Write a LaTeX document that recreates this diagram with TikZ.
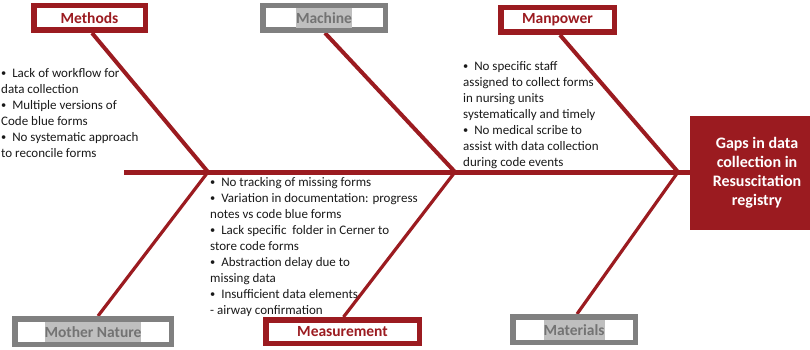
\documentclass[tikz,border=0pt]{standalone}
\usepackage{fontspec}
\setmainfont{Carlito}
\usetikzlibrary{backgrounds}
\definecolor{fbred}{RGB}{155,27,32}
\definecolor{fbgray}{RGB}{128,128,128}
\definecolor{hlgray}{RGB}{191,191,191}
\definecolor{lblgray}{RGB}{115,115,115}
\definecolor{txt}{RGB}{25,25,25}
\newcommand\hlbox[1]{{\setlength{\fboxsep}{0pt}\colorbox{hlgray}{\rule[-4.5pt]{0pt}{20pt}#1}}}
\newcommand\bul{\raisebox{0.5pt}{\scalebox{0.8}{\textbullet}}\ \ }
\begin{document}
\begin{tikzpicture}[x=1pt,y=-1pt,
  redbox/.style={draw=fbred, line width=5.5pt, fill=white, inner sep=0pt,
    font=\fontsize{15.5}{18}\selectfont\bfseries, text=fbred},
  graybox/.style={draw=fbgray, line width=5.5pt, fill=white, inner sep=0pt,
    font=\fontsize{15.5}{18}\selectfont\bfseries, text=lblgray},
  spine/.style={draw=fbred, line width=5pt},
  bone/.style={draw=fbred, line width=4pt},
  lowbone/.style={draw=fbred, line width=3.2pt},
  causes/.style={anchor=north west, align=left, inner sep=0pt,
    font=\fontsize{13}{16}\selectfont, text=txt},
  headbox/.style={fill=fbred, inner sep=0pt, align=center, text=white,
    font=\fontsize{16}{19}\selectfont\bfseries},
]
\clip (0,0) rectangle (810,350);
\useasboundingbox (0,0) rectangle (810,350);

% head
\node[headbox, minimum width=134pt, minimum height=114pt] (head) at (757,173)
  {Gaps in data\\collection in\\Resuscitation\\registry};

% junctions
\coordinate (tail) at (124,172);
\coordinate (j1) at (208,172);
\coordinate (j2) at (455,172);
\coordinate (j3) at (678,172);

% category boxes
\node[redbox, minimum width=111.5pt, minimum height=24.5pt] (methods) at (89.5,18) {Methods};
\node[graybox, minimum width=122.5pt, minimum height=24.5pt] (machine) at (324,18) {\hlbox{Machine}};
\node[redbox, minimum width=113.5pt, minimum height=24.5pt] (manpower) at (557.5,20) {Manpower};
\node[graybox, minimum width=156.5pt, minimum height=25.5pt] (mother) at (93,331.5) {\hlbox{Mother Nature}};
\node[redbox, minimum width=153.5pt, minimum height=23.5pt] (measure) at (342.5,331.5) {Measurement};
\node[graybox, minimum width=122.5pt, minimum height=25.5pt] (materials) at (574,329.5) {\hlbox{Materials}};

% bones
\begin{scope}[on background layer]
\draw[spine] (tail) -- (tail -| head.west);
\draw[bone] ([xshift=2.5pt]methods.south) -- (j1);
\draw[bone] ([xshift=1pt]machine.south) -- (j2);
\draw[bone] ([xshift=2.5pt]manpower.south) -- (j3);
\draw[lowbone] ([xshift=5pt]mother.north) -- (j1);
\draw[lowbone] ([xshift=1pt]measure.north) -- (j2);
\draw[lowbone] ([xshift=3pt]materials.north) -- (j3);
\end{scope}

% causes
\node[causes] (tmethods) at (1,68)
  {\bul Lack of workflow for\\data collection\\\bul Multiple versions of\\Code blue forms\\\bul No systematic approach\\to reconcile forms};
\node[causes] (tmanpower) at (463,61)
  {\bul No specific staff\\assigned to collect forms\\in nursing units\\systematically and timely\\\bul No medical scribe to\\assist with data collection\\during code events};
\node[causes] (tmeasure) at (210,177)
  {\bul No tracking of missing forms\\\bul Variation in documentation: progress\\notes vs code blue forms\\\bul Lack specific\ \ folder in Cerner to\\store code forms\\\bul Abstraction delay due to\\missing data\\\bul Insufficient data elements\\- airway confirmation};
\end{tikzpicture}
\end{document}
